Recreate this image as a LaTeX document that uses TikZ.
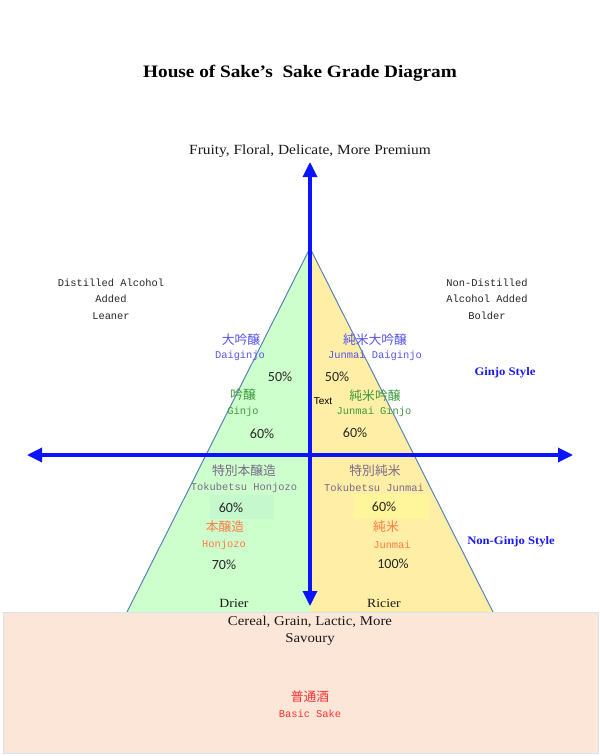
\documentclass[tikz,border=0pt]{standalone}
\usepackage{fontspec}
\setmainfont[FakeStretch=1.1]{Liberation Serif}
\newfontfamily\monof{Liberation Mono}
\newfontfamily\cjkf{Noto Sans CJK JP}
\newfontfamily\calf{Carlito}
\newfontfamily\arialf{Liberation Sans}
\usetikzlibrary{arrows.meta}
\definecolor{tgreen}{HTML}{CCFFCC}
\definecolor{tyellow}{HTML}{FFEFA6}
\definecolor{hlgreen}{HTML}{C6F8CE}
\definecolor{hlyellow}{HTML}{FFF59A}
\definecolor{edgeblue}{HTML}{5A82B8}
\definecolor{peach}{HTML}{FCE6D8}
\definecolor{peachedge}{HTML}{D6E4F0}
\definecolor{daiblue}{HTML}{5555EE}
\definecolor{ginjogreen}{HTML}{3E9A3E}
\definecolor{tokugray}{HTML}{7A6A8A}
\definecolor{honorange}{HTML}{FF7B45}
\definecolor{basicred}{HTML}{FF3030}
\definecolor{styleblue}{HTML}{1A1AF0}
\definecolor{axisblue}{HTML}{0A14FF}
\tikzset{
  every node/.style={inner sep=0pt, outer sep=0pt, align=center},
  jp/.style={font=\cjkf\fontsize{12.8}{15}\selectfont},
  rom/.style={font=\monof\fontsize{10.4}{12}\selectfont},
  pct/.style={font=\calf\fontsize{14}{16}\selectfont, text=black!85},
  serifl/.style={font=\fontsize{14}{17}\selectfont, text=black!90},
  side/.style={font=\monof\fontsize{10.4}{16.5}\selectfont, text=black!85},
  stylelab/.style={font=\bfseries\fontsize{11.5}{14}\selectfont, text=styleblue},
  dr/.style={font=\fontsize{12.5}{14}\selectfont, text=black!90},
  axis/.style={draw=axisblue, line width=3.3pt, -{Triangle[length=15pt,width=14pt]}},
}
\begin{document}
\begin{tikzpicture}[x=1pt,y=-1pt]
\useasboundingbox (0,0) rectangle (600,756);
% triangle halves
\fill[tgreen] (310,248) -- (127,612) -- (310,612) -- cycle;
\fill[tyellow] (310,248) -- (493,612) -- (310,612) -- cycle;
\draw[edgeblue, line width=1pt] (127,612) -- (310,248) -- (493,612);
% highlight boxes
\fill[hlgreen] (210,495) rectangle (274,519);
\fill[hlyellow] (354,494) rectangle (429,519);
% bottom box
\draw[peachedge, fill=peach, line width=1pt] (3,612) rectangle (598,753);
% axes
\coordinate (vtop) at (310,162);
\coordinate (vbot) at (310,606);
\coordinate (hl) at (27,455);
\coordinate (hr) at (573,455);
\coordinate (c) at (310,455);
\draw[axis] (c) -- (vtop);
\draw[axis] (c) -- (vbot);
\draw[axis] (c) -- (hl);
\draw[axis] (c) -- (hr);
% title
\node (title) at (300,73) {\bfseries\fontsize{17.5}{20}\selectfont House of Sake’s\ \ Sake Grade Diagram};
\node[serifl] (top) at (310,151) {Fruity, Floral, Delicate, More Premium};
\node[side] (left) at (111,299) {Distilled Alcohol\\Added\\Leaner};
\node[side] (right) at (487,299) {Non-Distilled\\Alcohol Added\\Bolder};
% upper left
\node[jp, text=daiblue] (dgj) at (241,340) {大吟醸};
\node[rom, text=daiblue] (dgr) at (240,356) {Daiginjo};
\node[pct] (dgp) at (280,377) {50\%};
\node[jp, text=ginjogreen] (gj) at (243,395) {吟醸};
\node[rom, text=ginjogreen] (gr) at (243,412) {Ginjo};
\node[pct] (gp) at (262,434) {60\%};
% upper right
\node[jp, text=daiblue] (jdgj) at (375,340) {純米大吟醸};
\node[rom, text=daiblue] (jdgr) at (375,356) {Junmai Daiginjo};
\node[pct] (jdgp) at (337,377) {50\%};
\node[font=\arialf\fontsize{10}{11}\selectfont] (txt) at (323,401) {Text};
\node[jp, text=ginjogreen] (jgj) at (375,396) {純米吟醸};
\node[rom, text=ginjogreen] (jgr) at (374,412) {Junmai Ginjo};
\node[pct] (jgp) at (355,433) {60\%};
\node[stylelab] (gs) at (505,373) {Ginjo Style};
% lower left
\node[jp, text=tokugray] (thj) at (244,471) {特別本醸造};
\node[rom, text=tokugray] (thr) at (244,488) {Tokubetsu Honjozo};
\node[pct] (thp) at (231,508) {60\%};
\node[jp, text=honorange] (hj) at (225,527) {本醸造};
\node[rom, text=honorange] (hr2) at (224,545) {Honjozo};
\node[pct] (hp) at (224,565) {70\%};
\node[dr] (dri) at (234,603) {Drier};
% lower right
\node[jp, text=tokugray] (tjj) at (375,471) {特別純米};
\node[rom, text=tokugray] (tjr) at (374,488) {Tokubetsu Junmai};
\node[pct] (tjp) at (384,507) {60\%};
\node[jp, text=honorange] (jj) at (386,527) {純米};
\node[rom, text=honorange] (jr) at (392,545) {Junmai};
\node[pct] (jp) at (393,564) {100\%};
\node[dr] (ri) at (384,603) {Ricier};
\node[stylelab] (ngs) at (511,542) {Non-Ginjo Style};
% bottom
\node[serifl, font=\fontsize{13.5}{17}\selectfont] (bot) at (310,631) {Cereal, Grain, Lactic, More\\Savoury};
\node[jp, text=basicred] (fj) at (310,697) {普通酒};
\node[rom, text=basicred] (fr) at (310,714) {Basic Sake};
\end{tikzpicture}
\end{document}
